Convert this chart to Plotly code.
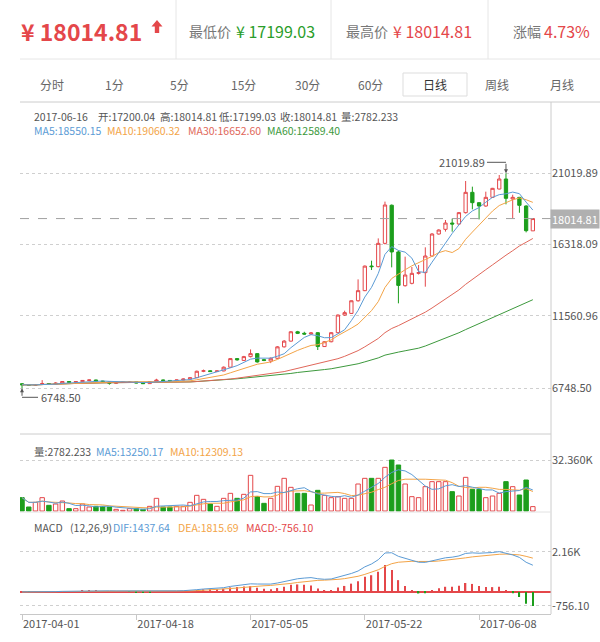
import plotly.graph_objects as go
import pandas as pd

W, H = 600, 642
def px(x): return x / W
def py(y): return 1 - y / H

# ---------------- data ----------------
dates = pd.date_range('2017-04-01', '2017-06-16').strftime('%Y-%m-%d').tolist()
opens = [7050, 6980, 6950, 7000, 7060, 7020, 7090, 7200, 7150, 7190,
         7270, 7300, 7230, 7170, 7080, 7150, 7170, 7180, 7100, 7060,
         7190, 7300, 7270, 7250, 7300, 7360, 7450, 7880, 7910, 7860,
         7900, 8150, 8720, 8600, 8850, 9050, 8650, 8560, 8740, 9500,
         9880, 10500, 10400, 10350, 10440, 9520, 9840, 10440, 11610, 11720,
         12560, 13230, 14866, 14822, 16370, 18900, 15800, 13560, 13716, 14380,
         14424, 15530, 16990, 17300, 17720, 17654, 18407, 19756, 19070, 18849,
         19424, 19978, 20641, 19314, 19424, 18849, 17200.04]
highs = [7100, 7020, 7030, 7290, 7100, 7150, 7230, 7230, 7220, 7290,
         7320, 7320, 7250, 7190, 7180, 7190, 7200, 7190, 7120, 7220,
         7380, 7330, 7290, 7320, 7400, 7480, 7920, 7990, 7950, 7930,
         8200, 8750, 8760, 8900, 9330, 9080, 8700, 8800, 9550, 9950,
         10550, 10560, 10500, 10480, 10480, 9880, 10470, 11650, 11900, 12580,
         13980, 14900, 15220, 16700, 19140, 18950, 15900, 15486, 14800, 14933,
         16106, 17050, 17300, 17920, 18008, 18450, 20509, 20133, 19100, 19801,
         20050, 20907, 21019.89, 19600, 19450, 18900, 18014.81]
lows = [6748.50, 6900, 6920, 6980, 6990, 7000, 7060, 7120, 7130, 7170,
        7220, 7200, 7150, 6990, 7050, 7120, 7140, 7080, 7040, 7040,
        7170, 7240, 7220, 7230, 7280, 7340, 7430, 7820, 7830, 7830,
        7880, 8120, 8580, 8560, 8800, 8450, 8550, 8420, 8700, 9450,
        9850, 10350, 10300, 10300, 9290, 9500, 9800, 10400, 11550, 11680,
        12500, 13200, 14600, 14780, 16300, 14777, 12388, 13500, 13650, 14300,
        13494, 15480, 16950, 17150, 17145, 17600, 18350, 18628, 17960, 18800,
        19380, 19950, 18960, 18030, 18400, 17100, 17199.03]
closes = [6980, 6950, 7000, 7060, 7020, 7090, 7200, 7150, 7190, 7270,
          7300, 7230, 7170, 7080, 7150, 7170, 7180, 7100, 7060, 7190,
          7300, 7270, 7250, 7300, 7360, 7450, 7880, 7910, 7860, 7900,
          8150, 8720, 8640, 8850, 9050, 8500, 8600, 8740, 9500, 9880,
          10500, 10400, 10350, 10420, 9520, 9840, 10440, 11610, 11770, 12560,
          13230, 14860, 14822, 16370, 18916, 15800, 13580, 14269, 14380, 14424,
          15530, 16990, 17256, 17720, 17654, 18407, 19756, 19070, 18850, 19424,
          20022, 20641, 19358, 19424, 18894, 17211, 18014.81]
volumes = [8460, 2538, 5499, 8460, 3596, 4442, 6345, 1481, 1481, 4442,
           2538, 2961, 2961, 2538, 1058, 423, 1481, 1481, 1058, 2961,
           8037, 2538, 2538, 2961, 2961, 5499, 9941, 7403, 4442, 2961,
           8037, 11210, 8037, 10575, 22631, 9095, 4865, 8037, 15651, 20727,
           15017, 11210, 11210, 3807, 13113, 9941, 8460, 9095, 8037, 8037,
           17132, 20727, 20727, 20727, 27707, 32360, 29187, 17132, 9095, 8460,
           15440, 18612, 18612, 18612, 12267, 9518, 21362, 13748, 13748, 8460,
           9518, 11210, 18612, 15440, 10152, 19670, 2782.233]

tick_days = ['2017-04-01', '2017-04-18', '2017-05-05', '2017-05-22', '2017-06-08']
price_ticks = [6748.50, 11560.96, 16318.09, 21019.89]
price_ticktext = ['6748.50', '11560.96', '16318.09', '21019.89']
vol_ticks = [32360]
vol_ticktext = ['32.360K']
macd_ticks = [2160, -756.10]
macd_ticktext = ['2.16K', '-756.10']
last_price = 18014.81
high_idx, high_val = 72, 21019.89
low_idx, low_val = 0, 6748.50

# ---------------- derived indicators ----------------
x = list(range(len(dates)))
c = pd.Series(closes)
v = pd.Series(volumes)
ma5 = c.rolling(5, min_periods=1).mean()
ma10 = c.rolling(10, min_periods=1).mean()
ma30 = c.rolling(30, min_periods=1).mean()
ma60 = c.rolling(60, min_periods=1).mean()
vma5 = v.rolling(5, min_periods=1).mean()
vma10 = v.rolling(10, min_periods=1).mean()
ema12 = c.ewm(span=12, adjust=False).mean()
ema26 = c.ewm(span=26, adjust=False).mean()
dif = ema12 - ema26
dea = dif.ewm(span=9, adjust=False).mean()
macd = 2 * (dif - dea)

RED = '#e4474a'
GREEN = '#1c9e1c'
BLUE = '#5b9bd5'
ORANGE = '#f3a447'
BROWN = '#e0675a'
DKGREEN = '#3d993d'
GRID = '#cfcfcf'
TXT = '#555555'
FONT = 'Noto Sans CJK SC, sans-serif'
INFO = 10.5

up = [i for i in x if closes[i] >= opens[i]]
dn = [i for i in x if closes[i] < opens[i]]

fig = go.Figure()
fig.add_trace(go.Candlestick(
    x=x, open=opens, high=highs, low=lows, close=closes,
    increasing=dict(line=dict(color=RED, width=1), fillcolor='white'),
    decreasing=dict(line=dict(color=GREEN, width=1), fillcolor=GREEN),
    whiskerwidth=0, hoverinfo='skip', xaxis='x', yaxis='y'))
for s, col in [(ma60, DKGREEN), (ma30, BROWN), (ma10, ORANGE), (ma5, BLUE)]:
    fig.add_trace(go.Scatter(x=x, y=s, mode='lines', line=dict(color=col, width=1),
                             hoverinfo='skip', xaxis='x', yaxis='y'))

fig.add_trace(go.Bar(x=up, y=[volumes[i] for i in up], width=0.66,
                     marker=dict(color='white', line=dict(color=RED, width=1)),
                     xaxis='x2', yaxis='y2', hoverinfo='skip'))
fig.add_trace(go.Bar(x=dn, y=[volumes[i] for i in dn], width=0.66,
                     marker=dict(color=GREEN, line=dict(color=GREEN, width=1)),
                     xaxis='x2', yaxis='y2', hoverinfo='skip'))
for s, col in [(vma10, ORANGE), (vma5, BLUE)]:
    fig.add_trace(go.Scatter(x=x, y=s, mode='lines', line=dict(color=col, width=1),
                             hoverinfo='skip', xaxis='x2', yaxis='y2'))

fig.add_trace(go.Bar(x=x, y=macd, width=0.2,
                     marker=dict(color=[RED if m >= 0 else GREEN for m in macd], line=dict(width=0)),
                     xaxis='x3', yaxis='y3', hoverinfo='skip'))
for s, col in [(dea, ORANGE), (dif, BLUE)]:
    fig.add_trace(go.Scatter(x=x, y=s, mode='lines', line=dict(color=col, width=1),
                             hoverinfo='skip', xaxis='x3', yaxis='y3'))

xdom = [px(20), px(551)]
xr = [-0.3, 78.7]
tickvals = [dates.index(d) for d in tick_days]
axfont = dict(family=FONT, size=11, color=TXT)

fig.update_layout(
    width=W, height=H, margin=dict(l=0, r=0, t=0, b=0),
    paper_bgcolor='white', plot_bgcolor='white', showlegend=False,
    barmode='overlay', hovermode=False,
    font=dict(family=FONT, size=11, color=TXT),
    xaxis=dict(domain=xdom, range=xr, anchor='y', showticklabels=False, showgrid=False,
               zeroline=False, rangeslider=dict(visible=False), fixedrange=True),
    xaxis2=dict(domain=xdom, range=xr, anchor='y2', matches='x', showticklabels=False,
                showgrid=False, zeroline=False),
    xaxis3=dict(domain=xdom, range=xr, anchor='y3', matches='x', showgrid=False, zeroline=False,
                tickvals=tickvals, ticktext=tick_days, ticks='outside', ticklen=5,
                tickcolor='#c8c8c8', showline=True, linecolor='#c8c8c8',
                ticklabelposition='outside right', tickfont=axfont),
    yaxis=dict(domain=[py(434), py(102)], range=[3715, 25753], side='right', anchor='x',
               tickvals=price_ticks, ticktext=price_ticktext, showgrid=True, gridcolor=GRID,
               griddash='dot', zeroline=False, tickfont=axfont, ticks=''),
    yaxis2=dict(domain=[py(512), py(434)], range=[-634.5, 48857], side='right', anchor='x2',
                tickvals=vol_ticks, ticktext=vol_ticktext, showgrid=True, gridcolor=GRID,
                griddash='dot', zeroline=False, tickfont=axfont, ticks=''),
    yaxis3=dict(domain=[py(614), py(512)], range=[-1187, 4291], side='right', anchor='x3',
                tickvals=macd_ticks, ticktext=macd_ticktext, showgrid=True, gridcolor=GRID,
                griddash='dot', zeroline=True, zerolinecolor=RED, zerolinewidth=1.5,
                tickfont=axfont, ticks=''),
)

shapes = []
def pline(x0, y0, x1, y1, color='#e6e6e6', width=1):
    shapes.append(dict(type='line', xref='paper', yref='paper', x0=px(x0), y0=py(y0),
                       x1=px(x1), y1=py(y1), line=dict(color=color, width=width)))
pline(20, 59, 600, 59)
for xx in [176, 331, 488]:
    pline(xx, 0, xx, 59)
pline(20, 102, 600, 102, '#cccccc')
pline(551, 102, 551, 614, '#cccccc')
pline(20, 434, 551, 434, '#cccccc')
pline(20, 512, 551, 512, '#e2e2e2')
shapes.append(dict(type='rect', xref='paper', yref='paper', x0=px(403), x1=px(467),
                   y0=py(96), y1=py(73), line=dict(color='#dddddd', width=1), fillcolor='white'))
# up arrow in header
pts = [(157, 20), (162.5, 26.5), (159.2, 26.5), (159.2, 33), (154.8, 33), (154.8, 26.5), (151.5, 26.5)]
path = 'M ' + ' L '.join(f'{px(a):.5f},{py(b):.5f}' for a, b in pts) + ' Z'
shapes.append(dict(type='path', xref='paper', yref='paper', path=path,
                   fillcolor=RED, line=dict(color=RED, width=0)))
# last price dashed line
shapes.append(dict(type='line', xref='paper', yref='y', x0=px(20), x1=px(551),
                   y0=last_price, y1=last_price, line=dict(color='#a0a0a0', width=1, dash='dash')))
# high marker leader line
shapes.append(dict(type='line', xref='x', yref='y', xsizemode='pixel', xanchor=high_idx,
                   x0=-19, x1=0, ysizemode='pixel', yanchor=high_val, y0=11, y1=11,
                   line=dict(color='#555', width=1)))
# low marker leader line
shapes.append(dict(type='line', xref='x', yref='y', xsizemode='pixel', xanchor=low_idx,
                   x0=0, x1=16, ysizemode='pixel', yanchor=low_val, y0=-9, y1=-9,
                   line=dict(color='#555', width=1)))
fig.update_layout(shapes=shapes)

ann = []
def txt(x0, y0, text, size=11, color=TXT, bold=False, anchor='left'):
    t = f'<b>{text}</b>' if bold else text
    ann.append(dict(xref='paper', yref='paper', x=px(x0), y=py(y0), text=t, showarrow=False,
                    xanchor=anchor, yanchor='middle', font=dict(family=FONT, size=size, color=color)))

# header
txt(19, 31, '¥ 18014.81', 23, RED, bold=True)
txt(187, 31, '最低价', 14, '#777')
txt(234, 31, '¥ 17199.03', 16, '#2a9d2a')
txt(344, 31, '最高价', 14, '#777')
txt(391, 31, '¥ 18014.81', 16, RED)
txt(511, 31, '涨幅', 14, '#777')
txt(542, 31, '4.73%', 16, RED)
# tabs
for lab, cx in [('分时', 52), ('1分', 114), ('5分', 179), ('15分', 243), ('30分', 307),
                ('60分', 370), ('日线', 435), ('周线', 497), ('月线', 562)]:
    txt(cx, 84, lab, 12, '#333' if lab == '日线' else '#666', anchor='center')
# info lines
txt(32, 117, '2017-06-16', INFO)
txt(96, 117, '开:17200.04', INFO)
txt(158, 117, '高:18014.81', INFO)
txt(217, 117, '低:17199.03', INFO)
txt(278, 117, '收:18014.81', INFO)
txt(339, 117, '量:2782.233', INFO)
txt(32, 131, 'MA5:18550.15', INFO, BLUE)
txt(105, 131, 'MA10:19060.32', INFO, ORANGE)
txt(186, 131, 'MA30:16652.60', INFO, BROWN)
txt(265, 131, 'MA60:12589.40', INFO, DKGREEN)
txt(32, 451, '量:2782.233', INFO)
txt(94, 451, 'MA5:13250.17', INFO, BLUE)
txt(168, 451, 'MA10:12309.13', INFO, ORANGE)
txt(32, 527, 'MACD', INFO)
txt(68, 527, '(12,26,9)', INFO)
txt(111, 527, 'DIF:1437.64', INFO, BLUE)
txt(176, 527, 'DEA:1815.69', INFO, ORANGE)
txt(244, 527, 'MACD:-756.10', INFO, RED)

# last price label
ann.append(dict(xref='paper', yref='y', x=px(550), y=last_price, text='18014.81', showarrow=False,
                xanchor='left', yanchor='middle', bgcolor='#b0b0b0', borderpad=1,
                font=dict(family=FONT, size=11, color='white')))
# high / low markers
ann.append(dict(xref='x', yref='y', x=high_idx, y=high_val, text='', showarrow=True,
                ax=0, ay=-11, arrowhead=2, arrowsize=0.8, arrowwidth=1, arrowcolor='#555'))
ann.append(dict(xref='x', yref='y', x=high_idx, y=high_val, text='21019.89', showarrow=False,
                xanchor='right', yanchor='middle', xshift=-19, yshift=11,
                font=dict(family=FONT, size=11, color=TXT)))
ann.append(dict(xref='x', yref='y', x=low_idx, y=low_val, text='', showarrow=True,
                ax=0, ay=9, arrowhead=2, arrowsize=0.8, arrowwidth=1, arrowcolor='#555'))
ann.append(dict(xref='x', yref='y', x=low_idx, y=low_val, text='6748.50', showarrow=False,
                xanchor='left', yanchor='middle', xshift=17, yshift=-9,
                font=dict(family=FONT, size=11, color=TXT)))
fig.update_layout(annotations=ann)

fig.write_html('out.html')
